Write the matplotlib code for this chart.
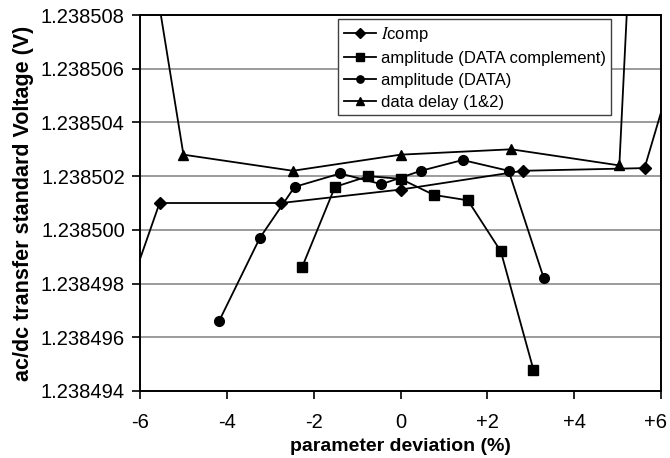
import matplotlib
matplotlib.use("Agg")
import matplotlib.pyplot as plt
from matplotlib.ticker import FixedLocator, FuncFormatter
from matplotlib.transforms import ScaledTranslation

plt.rcParams['font.family'] = ['Liberation Sans', 'DejaVu Sans']
plt.rcParams['mathtext.fontset'] = 'stix'

# parameter deviation (%) and measured voltage for each series
# (first/last points of Icomp and data delay lie outside the plotted range)
icomp_x = [-6.5, -5.55, -2.75, 0.0, 2.82, 5.62, 6.5]
icomp_y = [1.2384966, 1.2385010, 1.2385010, 1.2385015, 1.2385022, 1.2385023, 1.2385071]

amp_comp_x = [-2.27, -1.51, -0.74, 0.0, 0.77, 1.55, 2.31, 3.06]
amp_comp_y = [1.2384986, 1.2385016, 1.2385020, 1.2385019, 1.2385013, 1.2385011, 1.2384992, 1.2384948]

amp_data_x = [-4.18, -3.24, -2.44, -1.39, -0.44, 0.47, 1.43, 2.49, 3.30]
amp_data_y = [1.2384966, 1.2384997, 1.2385016, 1.2385021, 1.2385017, 1.2385022, 1.2385026, 1.2385022, 1.2384982]

delay_x = [-7.5, -5.0, -2.48, 0.0, 2.55, 5.04, 7.5]
delay_y = [1.2385278, 1.2385028, 1.2385022, 1.2385028, 1.2385030, 1.2385024, 1.2385836]

x_ticks = [-6, -4, -2, 0, 2, 4, 6]
x_tick_labels = ['-6', '-4', '-2', '0', '+2', '+4', '+6']
y_ticks = [1.238494, 1.238496, 1.238498, 1.238500, 1.238502, 1.238504, 1.238506, 1.238508]

fig = plt.figure(figsize=(6.7, 4.58), dpi=100)
ax = fig.add_axes([0.209, 0.1463, 0.7776, 0.8209])

line_kw = dict(color='black', linewidth=1.3)
ax.plot(icomp_x, icomp_y, marker='D', markersize=6.5, label=r'$I$comp', **line_kw)
ax.plot(amp_comp_x, amp_comp_y, marker='s', markersize=7, label='amplitude (DATA complement)', **line_kw)
ax.plot(amp_data_x, amp_data_y, marker='o', markersize=7, label='amplitude (DATA)', **line_kw)
ax.plot(delay_x, delay_y, marker='^', markersize=7, label='data delay (1&2)', **line_kw)

ax.set_xlim(-6, 6)
ax.set_ylim(1.238494, 1.238508)
ax.xaxis.set_major_locator(FixedLocator(x_ticks))
ax.set_xticklabels(x_tick_labels)
ax.yaxis.set_major_locator(FixedLocator(y_ticks))
ax.yaxis.set_major_formatter(FuncFormatter(lambda v, p: f'{v:.6f}'))

ax.yaxis.grid(True, color='#808080', linewidth=1.1)
ax.set_axisbelow(True)
for s in ax.spines.values():
    s.set_color('black')
    s.set_linewidth(1.4)

ax.tick_params(axis='both', direction='out', length=6, width=1.2,
               labelsize=14.5, pad=5)
ax.tick_params(axis='x', pad=10)

# last x label sits a little left of its tick, as in the original
last = ax.get_xticklabels()[-1]
last.set_transform(last.get_transform() + ScaledTranslation(-4 / 72, 0, fig.dpi_scale_trans))

ax.set_xlabel('parameter deviation (%)', fontsize=14, fontweight='bold', labelpad=4)
ax.set_ylabel('ac/dc transfer standard Voltage (V)', fontsize=15.5, fontweight='bold', labelpad=5)

leg = ax.legend(loc='upper left', bbox_to_anchor=(0.38, 0.99), borderaxespad=0,
                fontsize=12, frameon=True, fancybox=False, framealpha=1,
                edgecolor='#404040', handlelength=1.9, handletextpad=0.3,
                labelspacing=0.42, borderpad=0.35, markerscale=0.75)
leg.get_frame().set_linewidth(1.0)

fig.savefig('out.png', dpi=100)
